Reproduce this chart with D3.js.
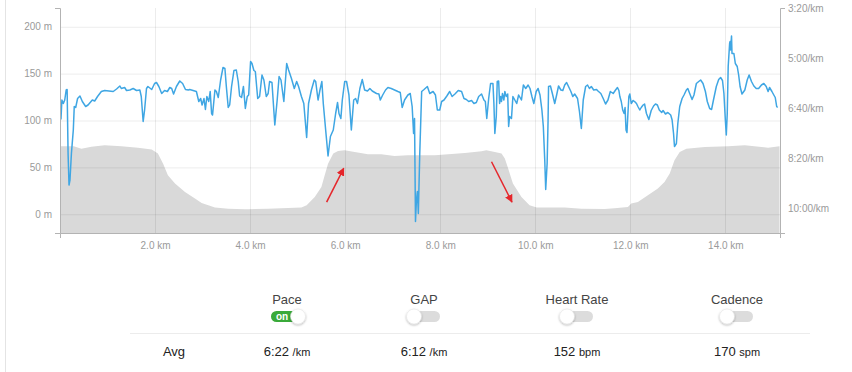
<html>
<head>
<script src="https://d3js.org/d3.v7.min.js"></script>
<style>
  body { margin: 0; background: #fff; font-family: "Liberation Sans", Arial, sans-serif; }
</style>
</head>
<body>
<svg id="chart" width="852" height="372"></svg>
<script>
// pace along the run: [distance km, pace seconds per km]
var paceTrack = [
  [0.02,423],[0.04,384],[0.07,391],[0.10,384],[0.13,364],[0.15,363],[0.17,491],[0.19,554],[0.21,544],[0.24,491],
  [0.28,444],[0.30,397],[0.33,399],[0.37,381],[0.42,376],[0.47,387],[0.54,397],[0.59,394],[0.68,384],[0.73,386],
  [0.79,377],[0.87,367],[0.94,365],[1.12,367],[1.19,362],[1.26,356],[1.29,361],[1.36,359],[1.40,365],[1.47,364],
  [1.54,361],[1.61,365],[1.68,364],[1.71,377],[1.75,427],[1.78,404],[1.82,361],[1.85,357],[1.93,363],[1.99,351],
  [2.03,349],[2.08,357],[2.14,371],[2.20,365],[2.26,367],[2.31,359],[2.35,361],[2.39,372],[2.45,357],[2.52,346],
  [2.58,351],[2.64,363],[2.70,364],[2.73,363],[2.80,365],[2.87,367],[2.92,387],[2.96,381],[2.99,394],[3.03,381],
  [3.06,403],[3.09,377],[3.13,387],[3.16,367],[3.19,411],[3.21,414],[3.26,364],[3.29,367],[3.33,379],[3.38,344],
  [3.43,319],[3.47,321],[3.50,357],[3.54,399],[3.57,394],[3.61,357],[3.66,325],[3.71,324],[3.75,347],[3.78,376],
  [3.82,379],[3.86,357],[3.90,401],[3.94,377],[3.97,374],[4.01,307],[4.04,311],[4.08,325],[4.11,327],[4.16,381],
  [4.20,377],[4.25,334],[4.29,344],[4.34,377],[4.38,371],[4.41,347],[4.46,349],[4.52,434],[4.57,384],[4.61,337],
  [4.65,344],[4.71,387],[4.77,311],[4.81,324],[4.87,341],[4.93,361],[4.98,347],[5.02,357],[5.08,377],[5.13,391],
  [5.19,459],[5.23,391],[5.29,364],[5.35,344],[5.38,347],[5.43,384],[5.47,364],[5.51,347],[5.54,391],[5.59,444],
  [5.64,496],[5.69,457],[5.75,444],[5.80,411],[5.84,389],[5.87,411],[5.91,421],[5.94,384],[5.99,347],[6.03,347],
  [6.08,374],[6.13,444],[6.18,384],[6.22,381],[6.26,391],[6.31,361],[6.36,343],[6.41,364],[6.47,366],[6.52,361],
  [6.57,366],[6.66,371],[6.71,372],[6.74,384],[6.79,374],[6.85,364],[6.90,359],[6.97,361],[7.04,364],[7.11,367],
  [7.16,369],[7.20,399],[7.25,384],[7.32,374],[7.37,371],[7.41,397],[7.44,451],[7.46,421],[7.48,627],[7.50,584],
  [7.52,567],[7.54,611],[7.57,491],[7.61,367],[7.66,363],[7.73,357],[7.78,371],[7.85,367],[7.90,374],[7.94,404],
  [7.99,404],[8.03,387],[8.08,384],[8.14,376],[8.20,367],[8.25,377],[8.31,372],[8.38,365],[8.45,367],[8.50,381],
  [8.55,383],[8.60,387],[8.66,385],[8.71,391],[8.76,389],[8.81,377],[8.87,372],[8.92,384],[8.95,387],[8.98,421],
  [9.02,381],[9.06,351],[9.11,351],[9.13,391],[9.15,451],[9.18,417],[9.20,347],[9.23,346],[9.25,391],[9.27,377],
  [9.29,387],[9.31,371],[9.34,384],[9.36,367],[9.39,377],[9.42,372],[9.44,437],[9.46,417],[9.50,421],[9.53,377],
  [9.57,384],[9.61,391],[9.65,374],[9.71,384],[9.75,354],[9.80,361],[9.85,354],[9.89,361],[9.93,377],[9.97,391],
  [10.02,367],[10.06,361],[10.10,374],[10.14,404],[10.17,437],[10.20,504],[10.22,563],[10.25,511],[10.27,424],[10.28,357],
  [10.32,356],[10.36,371],[10.41,391],[10.45,374],[10.49,356],[10.54,364],[10.58,365],[10.62,354],[10.66,349],[10.70,357],
  [10.75,367],[10.79,377],[10.83,372],[10.89,381],[10.93,407],[10.97,441],[11.01,384],[11.06,357],[11.10,354],[11.14,361],
  [11.18,357],[11.23,364],[11.29,363],[11.32,366],[11.38,371],[11.43,381],[11.48,392],[11.53,384],[11.58,367],[11.64,371],
  [11.69,364],[11.73,359],[11.76,365],[11.78,377],[11.81,387],[11.84,404],[11.87,411],[11.89,399],[11.91,444],[11.93,449],
  [11.95,411],[11.97,377],[11.99,372],[12.02,391],[12.06,385],[12.09,387],[12.13,391],[12.16,397],[12.20,404],[12.23,399],
  [12.27,394],[12.30,392],[12.34,411],[12.39,423],[12.44,405],[12.49,396],[12.53,392],[12.57,394],[12.61,404],[12.66,409],
  [12.69,405],[12.74,412],[12.79,409],[12.85,414],[12.88,424],[12.91,451],[12.93,477],[12.97,471],[13.00,431],[13.04,397],
  [13.09,381],[13.13,374],[13.18,364],[13.21,361],[13.25,371],[13.30,383],[13.34,374],[13.39,351],[13.44,347],[13.48,344],
  [13.53,351],[13.58,367],[13.62,387],[13.67,401],[13.71,403],[13.75,384],[13.81,357],[13.86,343],[13.90,339],[13.94,345],
  [13.97,371],[14.00,424],[14.02,454],[14.04,411],[14.06,317],[14.09,271],[14.10,267],[14.11,284],[14.13,256],[14.14,291],
  [14.18,291],[14.21,311],[14.25,317],[14.28,334],[14.31,357],[14.35,372],[14.41,364],[14.46,344],[14.50,334],[14.55,347],
  [14.60,356],[14.65,361],[14.70,361],[14.76,354],[14.81,351],[14.86,357],[14.90,367],[14.93,359],[14.98,367],[15.02,374],
  [15.05,379],[15.08,397],[15.10,399]
];

// elevation profile: [distance km, metres]
var elevTrack = [
  [0,72.5],[0.29,72.5],[0.45,70],[0.66,72],[0.94,73.6],[1.29,72.5],[1.64,71],[1.93,69],[2.06,64.7],[2.17,54],
  [2.27,41.6],[2.42,32.7],[2.63,23.8],[2.84,16.7],[2.98,12],[3.12,9.6],[3.26,7.1],[3.54,6],[3.89,5.3],[3.96,5.3],
  [4.38,6],[5.08,7.1],[5.19,9.6],[5.36,18.5],[5.50,29],[5.57,41.6],[5.64,54],[5.75,64.7],[5.85,67.5],[5.99,68.3],
  [6.20,66.5],[6.48,64],[6.76,64],[7.04,62.2],[7.32,63],[7.68,63],[7.89,63],[8.17,64],[8.52,65.4],[8.87,67.2],
  [8.97,68.3],[9.15,66.5],[9.29,64.7],[9.36,59.4],[9.43,48.7],[9.53,32.7],[9.71,18.5],[9.88,9.6],[10.03,7.1],[10.27,7.1],
  [10.62,7.1],[10.97,6],[11.46,5.6],[11.67,6.4],[11.95,7.8],[12.02,11.4],[12.16,13.1],[12.37,20.3],[12.58,27.4],[12.72,34.5],
  [12.83,43.4],[12.93,57.6],[13.04,66.5],[13.18,70],[13.57,71.8],[14.06,72.5],[14.41,73.6],[14.76,71.8],[14.90,71],[15.14,72.5]
];

// red annotation arrows: [fromKm, fromM, toKm, toM]
var arrows = [
  [5.61, 13, 5.97, 49],
  [9.08, 56, 9.51, 13]
];

var elevTicks = [0, 50, 100, 150, 200];
var paceTicks = [200, 300, 400, 500, 600];
var distTicks = [2, 4, 6, 8, 10, 12, 14];

var metricNames = ["Pace", "GAP", "Heart Rate", "Cadence"];
var metricOn = [true, false, false, false];
var avgValues = ["6:22", "6:12", "152", "170"];
var avgUnits = ["/km", "/km", "bpm", "spm"];

var svg = d3.select("#chart");

var x = d3.scaleLinear().domain([0, 15.15]).range([60, 780]);
var yElev = d3.scaleLinear().domain([-20, 220]).range([233, 8]);
var yPace = d3.scaleLinear().domain([650, 200]).range([233, 8]);

function fmtPace(s) {
  var m = Math.floor(s / 60), r = s % 60;
  return m + ":" + (r < 10 ? "0" + r : r) + "/km";
}

// faint page border on the left
svg.append("line")
  .attr("x1", 5.5).attr("x2", 5.5).attr("y1", 0).attr("y2", 372)
  .attr("stroke", "#e4e4e4");

// elevation area
svg.append("path")
  .datum(elevTrack)
  .attr("fill", "#d9d9d9")
  .attr("d", d3.area()
    .x(function(d) { return x(d[0]); })
    .y0(yElev(-20))
    .y1(function(d) { return yElev(d[1]); }));

// grid
svg.append("g").selectAll("line").data(elevTicks).enter()
  .append("line")
    .attr("x1", x(0)).attr("x2", x(15.15))
    .attr("y1", function(d) { return yElev(d) + 0.5; })
    .attr("y2", function(d) { return yElev(d) + 0.5; })
    .attr("stroke", "#000").attr("stroke-opacity", 0.075);
svg.append("g").selectAll("line").data(distTicks).enter()
  .append("line")
    .attr("x1", function(d) { return Math.round(x(d)) + 0.5; })
    .attr("x2", function(d) { return Math.round(x(d)) + 0.5; })
    .attr("y1", 8).attr("y2", 233)
    .attr("stroke", "#000").attr("stroke-opacity", 0.075);

// pace line
svg.append("path")
  .datum(paceTrack)
  .attr("fill", "none")
  .attr("stroke", "#3fa6e3")
  .attr("stroke-width", 1.5)
  .attr("stroke-linejoin", "round")
  .attr("d", d3.line()
    .x(function(d) { return x(d[0]); })
    .y(function(d) { return yPace(d[1]); }));

// arrows
svg.append("defs").append("marker")
    .attr("id", "head")
    .attr("viewBox", "0 0 10 10")
    .attr("refX", 9).attr("refY", 5)
    .attr("markerWidth", 8).attr("markerHeight", 8)
    .attr("markerUnits", "userSpaceOnUse")
    .attr("orient", "auto")
  .append("path")
    .attr("d", "M0,0 L10,5 L0,10 z")
    .attr("fill", "#e5262b");
svg.append("g").selectAll("line").data(arrows).enter()
  .append("line")
    .attr("x1", function(d) { return x(d[0]); })
    .attr("y1", function(d) { return yElev(d[1]); })
    .attr("x2", function(d) { return x(d[2]); })
    .attr("y2", function(d) { return yElev(d[3]); })
    .attr("stroke", "#e5262b")
    .attr("stroke-width", 1.5)
    .attr("marker-end", "url(#head)");

// axes
function styleAxis(g) {
  g.attr("font-family", "'Liberation Sans', Arial, sans-serif").attr("font-size", 10);
  g.selectAll(".domain").attr("stroke", "#b3b3b3");
  g.selectAll("text").attr("fill", "#9a9a9a");
}

svg.append("g")
  .attr("transform", "translate(60,0)")
  .call(d3.axisLeft(yElev).tickValues(elevTicks).tickSizeInner(0).tickSizeOuter(5).tickPadding(8)
    .tickFormat(function(d) { return d + " m"; }))
  .call(styleAxis);

svg.append("g")
  .attr("transform", "translate(780,0)")
  .call(d3.axisRight(yPace).tickValues(paceTicks).tickSizeInner(0).tickSizeOuter(5).tickPadding(8)
    .tickFormat(fmtPace))
  .call(styleAxis);

svg.append("g")
  .attr("transform", "translate(0,233)")
  .call(d3.axisBottom(x).tickValues(distTicks).tickSizeInner(0).tickSizeOuter(5).tickPadding(9)
    .tickFormat(function(d) { return d.toFixed(1) + " km"; }))
  .call(styleAxis);

// metric toggles and averages
var colX = [287, 424, 577, 737];

var shadow = svg.select("defs").append("filter").attr("id", "knob")
  .attr("x", "-50%").attr("y", "-50%").attr("width", "200%").attr("height", "200%");
shadow.append("feDropShadow").attr("dx", 0).attr("dy", 1).attr("stdDeviation", 1)
  .attr("flood-color", "#000").attr("flood-opacity", 0.3);

var cols = svg.append("g").selectAll("g").data(metricNames).enter()
  .append("g")
    .attr("transform", function(d, i) { return "translate(" + colX[i] + ",0)"; });

cols.append("text")
  .attr("y", 304)
  .attr("text-anchor", "middle")
  .attr("font-size", 13)
  .attr("fill", "#444")
  .text(function(d) { return d; });

cols.append("rect")
  .attr("x", -16).attr("y", 311)
  .attr("width", 32).attr("height", 11).attr("rx", 5.5)
  .attr("fill", function(d, i) { return metricOn[i] ? "#3aaa3a" : "#dcdcdc"; });

cols.filter(function(d, i) { return metricOn[i]; })
  .append("text")
    .attr("x", -11).attr("y", 320)
    .attr("font-size", 10).attr("font-weight", "bold")
    .attr("fill", "#fff")
    .text("on");

cols.append("circle")
  .attr("cx", function(d, i) { return metricOn[i] ? 11 : -10; })
  .attr("cy", 316.5)
  .attr("r", 7.5)
  .attr("fill", "#fff")
  .attr("stroke", "#e0e0e0")
  .attr("stroke-width", 0.5)
  .attr("filter", "url(#knob)");

svg.append("line")
  .attr("x1", 130).attr("x2", 810).attr("y1", 333.5).attr("y2", 333.5)
  .attr("stroke", "#ececec");

svg.append("text")
  .attr("x", 174).attr("y", 356)
  .attr("text-anchor", "middle")
  .attr("font-size", 13).attr("fill", "#222")
  .text("Avg");

var avg = cols.append("text")
  .attr("y", 356)
  .attr("text-anchor", "middle")
  .attr("fill", "#222");
avg.append("tspan")
  .attr("font-size", 13)
  .text(function(d, i) { return avgValues[i] + " "; });
avg.append("tspan")
  .attr("font-size", 11)
  .text(function(d, i) { return avgUnits[i]; });
</script>
</body>
</html>
